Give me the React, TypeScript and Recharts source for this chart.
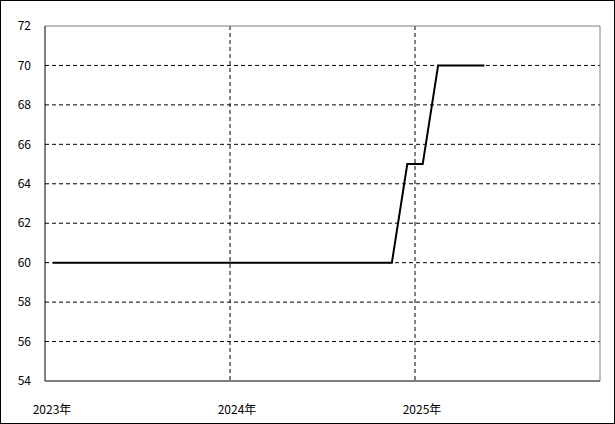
import { LineChart, Line, XAxis, YAxis, CartesianGrid, ReferenceLine } from 'recharts'

// monthly values, plotted at mid-month (Jan 2023 .. May 2025)
const months = [
  '2023-01', '2023-02', '2023-03', '2023-04', '2023-05', '2023-06',
  '2023-07', '2023-08', '2023-09', '2023-10', '2023-11', '2023-12',
  '2024-01', '2024-02', '2024-03', '2024-04', '2024-05', '2024-06',
  '2024-07', '2024-08', '2024-09', '2024-10', '2024-11', '2024-12',
  '2025-01', '2025-02', '2025-03', '2025-04', '2025-05',
]
const values = [
  60, 60, 60, 60, 60, 60, 60, 60, 60, 60, 60, 60,
  60, 60, 60, 60, 60, 60, 60, 60, 60, 60, 60, 65,
  65, 70, 70, 70, 70,
]

const yearTicks = [0, 12, 24]
const yearLabels = ['2023年', '2024年', '2025年']
const yTicks = [54, 56, 58, 60, 62, 64, 66, 68, 70, 72]

const FONT = "'Noto Sans CJK JP', 'DejaVu Sans', sans-serif"

const YearTick = (props: any) => {
  const { x, y, payload } = props
  const idx = yearTicks.indexOf(payload.value)
  return (
    <text
      x={x + 7}
      y={y + 19}
      textAnchor="middle"
      dominantBaseline="central"
      fontFamily={FONT}
      fontSize={12}
      fill="#000"
    >
      {yearLabels[idx]}
    </text>
  )
}

export default function App() {
  document.body.style.margin = '0'

  // x = month index from Jan 2023, centred in the month
  const data = months.map((m, i) => ({ month: m, x: i + 0.5, value: values[i] }))

  return (
    <div style={{ position: 'relative', width: 615, height: 424, background: '#fff' }}>
      <LineChart
        width={615}
        height={424}
        data={data}
        margin={{ top: 26, right: 15, left: 0, bottom: 0 }}
      >
        <CartesianGrid
          stroke="#000"
          strokeDasharray="4 3"
          horizontalValues={[56, 58, 60, 62, 64, 66, 68, 70]}
          verticalValues={[12, 24]}
        />
        <ReferenceLine y={72} stroke="#808080" />
        <ReferenceLine x={36} stroke="#808080" />
        <XAxis
          dataKey="x"
          type="number"
          domain={[0, 36]}
          ticks={yearTicks}
          height={43}
          tickLine={false}
          axisLine={{ stroke: '#000' }}
          tick={<YearTick />}
          interval={0}
        />
        <YAxis
          type="number"
          domain={[54, 72]}
          ticks={yTicks}
          width={45}
          tickLine={false}
          tickSize={0}
          tickMargin={14}
          axisLine={{ stroke: '#000' }}
          tick={{ fill: '#000', fontSize: 12, fontFamily: FONT }}
          interval={0}
        />
        <Line
          type="linear"
          dataKey="value"
          stroke="#000"
          strokeWidth={2}
          dot={false}
          isAnimationActive={false}
        />
      </LineChart>
      <div
        style={{
          position: 'absolute',
          inset: 0,
          border: '1px solid #000',
          pointerEvents: 'none',
        }}
      />
    </div>
  )
}
